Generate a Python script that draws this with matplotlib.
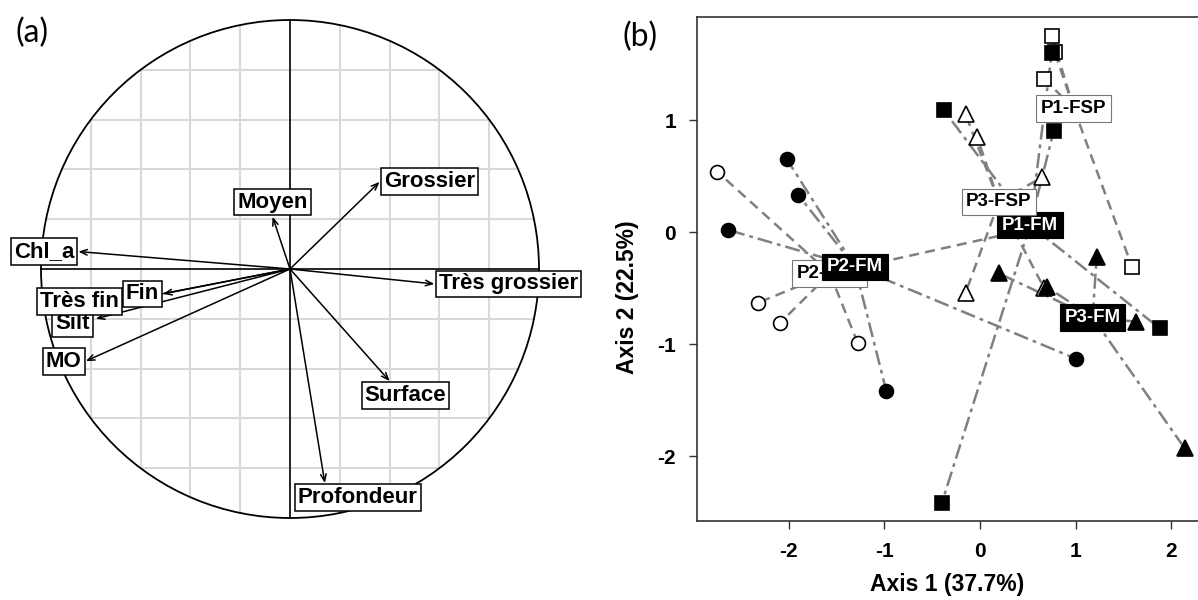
#%% Import libs
import numpy as np
import matplotlib
matplotlib.use("Agg")
import matplotlib.pyplot as plt

plt.rcParams['font.family'] = ['Liberation Sans', 'DejaVu Sans']

#%% Data (a): correlation circle
var_names = ['Grossier', 'Moyen', 'Chl_a', 'Très grossier', 'MO',
             'Surface', 'Profondeur', 'Silt', 'Très fin', 'Fin']
var_x = [0.36, -0.07, -0.85, 0.58, -0.82, 0.40, 0.14, -0.78, -0.67, -0.51]
var_y = [0.35, 0.21, 0.07, -0.06, -0.37, -0.45, -0.86, -0.20, -0.13, -0.10]

#%% Data (b): individuals per group
groups = ['P1-FM', 'P1-FSP', 'P2-FSP', 'P2-FM', 'P3-FM', 'P3-FSP']
p1_fm_x = [-0.38, 0.75, 0.77, 1.88, -0.40]
p1_fm_y = [1.09, 1.60, 0.90, -0.86, -2.42]
p1_fsp_x = [0.75, 0.67, 1.59, 0.78, 1.12]
p1_fsp_y = [1.75, 1.37, -0.31, 1.61, 1.09]
p2_fsp_x = [-2.75, -2.32, -2.09, -1.28, 0.59]
p2_fsp_y = [0.54, -0.63, -0.81, -0.99, 0.04]
p2_fm_x = [-2.02, -1.90, -2.64, -0.98, 1.00]
p2_fm_y = [0.65, 0.33, 0.02, -1.42, -1.13]
p3_fm_x = [1.22, 0.20, 0.70, 1.63, 2.14]
p3_fm_y = [-0.22, -0.37, -0.49, -0.80, -1.93]
p3_fsp_x = [-0.15, -0.03, 0.65, -0.15, 0.67]
p3_fsp_y = [1.05, 0.85, 0.49, -0.54, -0.50]

xy_data = {'P1-FM': (p1_fm_x, p1_fm_y), 'P1-FSP': (p1_fsp_x, p1_fsp_y),
           'P2-FSP': (p2_fsp_x, p2_fsp_y), 'P2-FM': (p2_fm_x, p2_fm_y),
           'P3-FM': (p3_fm_x, p3_fm_y), 'P3-FSP': (p3_fsp_x, p3_fsp_y)}

x_ticks = [-2, -1, 0, 1, 2]
y_ticks = [-2, -1, 0, 1]

#%% Figure
W, H = 1198, 600
fig = plt.figure(figsize=(W / 100, H / 100), dpi=100)

#%% Panel (a)
ax1 = fig.add_axes([0, 0, 599 / W, 1])
sc = 249.0
ax1.set_xlim(-290 / sc, (599 - 290) / sc)
ax1.set_ylim(-(600 - 269) / sc, 269 / sc)
ax1.axis("off")

# grid clipped to the circle
for g in [-0.8, -0.6, -0.4, -0.2, 0.2, 0.4, 0.6, 0.8]:
    h = np.sqrt(1 - g ** 2)
    ax1.plot([g, g], [-h, h], color='#d9d9d9', lw=1.5, zorder=1)
    ax1.plot([-h, h], [g, g], color='#d9d9d9', lw=1.5, zorder=1)
ax1.plot([-1, 1], [0, 0], color='black', lw=1.2, zorder=2)
ax1.plot([0, 0], [-1, 1], color='black', lw=1.2, zorder=2)
ax1.add_patch(plt.Circle((0, 0), 1, fill=False, color='black', lw=1.3, zorder=2))

for x, y in zip(var_x, var_y):
    ax1.annotate('', xy=(x, y), xytext=(0, 0),
                 arrowprops=dict(arrowstyle='->,head_length=0.5,head_width=0.2',
                                 lw=1.1, color='black', shrinkA=0, shrinkB=0),
                 zorder=3)

# label nudges (pixels) for labels moved by hand in the original
nudge = {'Surface': (16, 0), 'Profondeur': (33, 0), 'Silt': (-2, -5)}
for i, (name, x, y) in enumerate(zip(var_names, var_x, var_y)):
    if x > abs(y):
        ha, va, dx, dy = 'left', 'center', 3, 0
    elif -x >= abs(y):
        ha, va, dx, dy = 'right', 'center', -3, 0
    elif y < 0:
        ha, va, dx, dy = 'center', 'top', 0, -3
    else:
        ha, va, dx, dy = 'center', 'bottom', 0, 3
    nx, ny = nudge.get(name, (0, 0))
    ax1.annotate(name, xy=(x, y), xytext=(dx + nx * 0.72, dy + ny * 0.72),
                 textcoords='offset points', ha=ha, va=va,
                 fontsize=16, fontweight='bold', zorder=4 + i,
                 bbox=dict(boxstyle='square,pad=0.13', fc='white', ec='black', lw=1.1))

#%% Panel (b)
ax2 = fig.add_axes([697 / W, (600 - 521) / H, (W - 697) / W, (521 - 17) / H])
ax2.set_xlim(-2.96, 2.28)
ax2.set_ylim(-2.58, 1.92)
ax2.spines['right'].set_visible(False)
for s in ['left', 'bottom', 'top']:
    ax2.spines[s].set_color('#333333')
    ax2.spines[s].set_linewidth(1.2)
ax2.set_xticks(x_ticks)
ax2.set_yticks(y_ticks)
ax2.set_xticklabels([str(v) for v in x_ticks], fontsize=15, fontweight='bold')
ax2.set_yticklabels([str(v) for v in y_ticks], fontsize=15, fontweight='bold')
ax2.tick_params(direction='out', length=6, width=1.0, pad=9, color='#333333')
ax2.set_xlabel('Axis 1 (37.7%)', fontsize=16.5, fontweight='bold', labelpad=9)
ax2.set_ylabel('Axis 2 (22.5%)', fontsize=16.5, fontweight='bold')
ax2.yaxis.set_label_coords(-0.115, (521 - 297) / 504)

marker_of = {'P1': 's', 'P2': 'o', 'P3': '^'}
size_of = {'P1': 9.5, 'P2': 10, 'P3': 12}
for k, g in enumerate(groups):
    gx, gy = xy_data[g]
    cx, cy = np.mean(gx), np.mean(gy)
    filled = g.endswith('FM')
    ls = (0, (6, 2, 1.5, 2)) if filled else (0, (4, 2.5))
    for x, y in zip(gx, gy):
        ax2.plot([cx, x], [cy, y], color='#808080', lw=1.8, ls=ls, zorder=1)
    site = g[:2]
    ax2.plot(gx, gy, ls='none', marker=marker_of[site], ms=size_of[site],
             mfc='black' if filled else 'white', mec='black', mew=1.2,
             zorder=3 if filled else 2)
    ax2.text(cx, cy, g, ha='center', va='center', fontsize=13.5, fontweight='bold',
             color='white' if filled else 'black', zorder=10 + k,
             bbox=dict(boxstyle='square,pad=0.25', fc='black' if filled else 'white',
                       ec='black' if filled else '#777777', lw=0.8))

#%% Panel letters
fig.text(32 / W, 1 - 33 / H, '(a)', fontsize=23, family='Lato', ha='center', va='center')
fig.text(640 / W, 1 - 37 / H, '(b)', fontsize=23, family='Lato', ha='center', va='center')

fig.savefig('out.png', dpi=100)
